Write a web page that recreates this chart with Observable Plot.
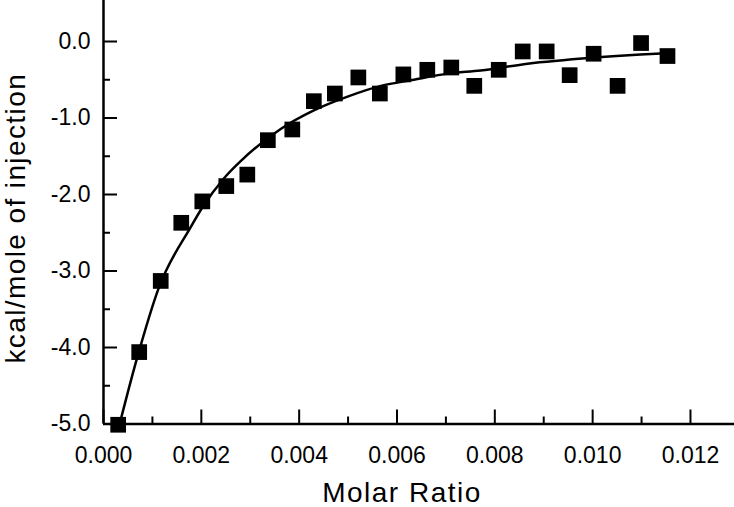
<!DOCTYPE html>
<html>
<head>
<meta charset="utf-8">
<script src="https://cdn.jsdelivr.net/npm/d3@7"></script>
<script src="https://cdn.jsdelivr.net/npm/@observablehq/plot@0.6"></script>
<style>
  html, body { margin: 0; padding: 0; background: #fff; }
</style>
</head>
<body>
<div id="chart"></div>
<script>
// Observed injection heats
const molarRatio = [0.00030, 0.00073, 0.00117, 0.00159, 0.00202, 0.00251, 0.00294, 0.00336, 0.00386,
  0.00430, 0.00473, 0.00521, 0.00565, 0.00613, 0.00662, 0.00711, 0.00758, 0.00808, 0.00857,
  0.00906, 0.00953, 0.01002, 0.01051, 0.01099, 0.01153];
const heat = [-5.01, -4.06, -3.13, -2.37, -2.09, -1.89, -1.74, -1.29, -1.15,
  -0.78, -0.68, -0.47, -0.68, -0.43, -0.37, -0.34, -0.58, -0.37, -0.13,
  -0.13, -0.44, -0.16, -0.58, -0.02, -0.19];

// Fitted curve
const fitRatio = [0.00033, 0.00069, 0.00113, 0.00178, 0.00202, 0.00246, 0.00281, 0.00363, 0.00430,
  0.00499, 0.00567, 0.00635, 0.00703, 0.00771, 0.00867, 0.01003, 0.01098, 0.01160];
const fitHeat = [-5.00, -4.13, -3.22, -2.43, -2.17, -1.79, -1.56, -1.14, -0.90,
  -0.72, -0.58, -0.50, -0.42, -0.38, -0.29, -0.21, -0.17, -0.15];

// Ticks
const xMajor = [0, 0.002, 0.004, 0.006, 0.008, 0.010, 0.012];
const xMinor = [0.001, 0.003, 0.005, 0.007, 0.009, 0.011];
const yMajor = [-5, -4, -3, -2, -1, 0];
const yMinor = [-4.5, -3.5, -2.5, -1.5, -0.5];
const xLabel = "Molar Ratio";
const yLabel = "kcal/mole of injection";

const points = molarRatio.map((x, i) => ({x, y: heat[i]}));
const fit = fitRatio.map((x, i) => ({x, y: fitHeat[i]}));

const chart = Plot.plot({
  width: 734,
  height: 507,
  marginLeft: 103,
  marginRight: 0,
  marginTop: 0,
  marginBottom: 83.5,
  style: {fontFamily: "'Liberation Sans', Arial, Helvetica, sans-serif", fontSize: "23px", color: "#000", background: "#fff"},
  x: {domain: [0, 0.0129], label: null},
  y: {domain: [-5, 0.536], label: null},
  marks: [
    Plot.axisX({ticks: xMajor, tickSize: 0, tickPadding: 23, tickFormat: d => d.toFixed(3), label: null, fontSize: 23}),
    Plot.axisX({ticks: xMajor, tickSize: 14, dy: -14, text: null, strokeWidth: 2, label: null}),
    Plot.axisX({ticks: xMinor, tickSize: 7, dy: -7, text: null, strokeWidth: 2, label: null}),
    Plot.axisY({ticks: yMajor, tickSize: 0, tickPadding: 13, tickFormat: d => d.toFixed(1), label: null, fontSize: 23}),
    Plot.axisY({ticks: yMajor, tickSize: 14, dx: 14, text: null, strokeWidth: 2, label: null}),
    Plot.axisY({ticks: yMinor, tickSize: 7, dx: 7, text: null, strokeWidth: 2, label: null}),
    Plot.ruleX([0], {stroke: "#000", strokeWidth: 2.5}),
    Plot.ruleY([-5], {stroke: "#000", strokeWidth: 2.5}),
    Plot.line(fit, {x: "x", y: "y", curve: "monotone-x", stroke: "#000", strokeWidth: 2.5}),
    Plot.dot(points, {x: "x", y: "y", symbol: "square", r: 8.86, fill: "#000", stroke: "none"}),
    Plot.text([xLabel], {frameAnchor: "bottom", textAnchor: "middle", lineAnchor: "middle", dx: -17, dy: 69, fontSize: 28, fill: "#000"}),
    Plot.text([yLabel], {frameAnchor: "left", textAnchor: "middle", lineAnchor: "middle", rotate: -90, dx: -87, dy: 6, fontSize: 28, fill: "#000"})
  ]
});

document.getElementById("chart").appendChild(chart);
d3.select(chart).selectAll("text").filter(function() { return this.textContent === xLabel; }).style("letter-spacing", "1.5px");
d3.select(chart).selectAll("text").filter(function() { return this.textContent === yLabel; }).style("letter-spacing", "1.4px");
</script>
</body>
</html>
